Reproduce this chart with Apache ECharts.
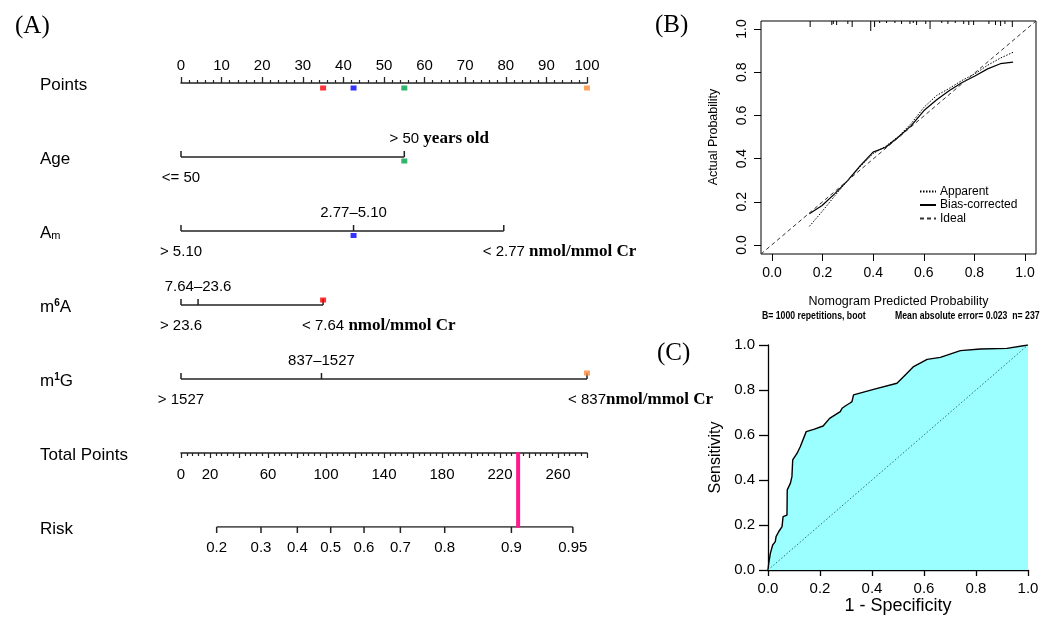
<!DOCTYPE html>
<html lang="en">
<head>
<meta charset="UTF-8">
<title>Nomogram, calibration and ROC</title>
<script src="https://cdn.jsdelivr.net/npm/echarts@6/dist/echarts.min.js"></script>
<style>
  html, body { margin: 0; padding: 0; background: #fff; }
  #main { width: 1057px; height: 619px; }
</style>
</head>
<body>
<div id="main"></div>
<script>
// ---------- (A) nomogram ----------
const rowNames = ['Points', 'Age', 'Am', 'm6A', 'm1G', 'Total Points', 'Risk'];
const ageLevels = ['<= 50', '> 50'];
const agePoints = [0, 55];
const amLevels = ['> 5.10', '2.77–5.10', '< 2.77'];
const amPoints = [0, 42.5, 79.5];
const m6aLevels = ['> 23.6', '7.64–23.6', '< 7.64'];
const m6aPoints = [0, 4.2, 35];
const m1gLevels = ['> 1527', '837–1527', '< 837'];
const m1gPoints = [0, 34.6, 100];
const units = [' years old', ' nmol/mmol Cr', ' nmol/mmol Cr', 'nmol/mmol Cr'];

// patient marked on the nomogram: chosen level of each variable
const pickedLevel = [1, 1, 2, 2];
const pickedColors = ['#00a04a', '#0000ff', '#ff0000', '#ff8c3c'];

const totalPointsMax = 280;
const totalLabels = [0, 20, 60, 100, 140, 180, 220, 260];
const riskTicks = [0.2, 0.3, 0.4, 0.5, 0.6, 0.7, 0.8, 0.9, 0.95];
const lpIntercept = -1.82;
const lpSlope = 0.01763; // linear predictor per total point

// ---------- (B) calibration ----------
const calX = [0.15, 0.20, 0.25, 0.30, 0.35, 0.40, 0.45, 0.50, 0.55, 0.60, 0.65, 0.70, 0.75, 0.80, 0.85, 0.90, 0.95];
const apparent = [0.088, 0.157, 0.23, 0.30, 0.365, 0.425, 0.46, 0.505, 0.565, 0.64, 0.695, 0.728, 0.765, 0.795, 0.835, 0.868, 0.895];
const biasCorrected = [0.147, 0.185, 0.24, 0.30, 0.37, 0.432, 0.455, 0.502, 0.555, 0.625, 0.675, 0.718, 0.755, 0.785, 0.818, 0.842, 0.849];
const rugX = [0.153, 0.238, 0.244, 0.257, 0.301, 0.318, 0.391, 0.406, 0.426, 0.453, 0.486, 0.512, 0.545, 0.558, 0.571,
  0.607, 0.624, 0.670, 0.694, 0.723, 0.756, 0.776, 0.795, 0.855, 0.881, 0.901, 0.918, 0.947];
const rugFreq = [6, 4, 3, 4, 3, 6, 10, 6, 2, 2, 2, 3, 3, 2, 4, 3, 8, 2, 3, 2, 3, 4, 4, 3, 4, 5, 3, 6];

// ---------- (C) ROC ----------
const rocFpr = [0, 0.003, 0.009, 0.018, 0.028, 0.031, 0.041, 0.054, 0.058, 0.073, 0.074, 0.086, 0.092, 0.095, 0.112,
  0.124, 0.147, 0.176, 0.212, 0.237, 0.278, 0.285, 0.297, 0.314, 0.323, 0.329, 0.406, 0.496, 0.528, 0.56, 0.612,
  0.663, 0.74, 0.817, 0.919, 1.0];
const rocTpr = [0, 0.03, 0.074, 0.111, 0.126, 0.148, 0.17, 0.193, 0.237, 0.244, 0.356, 0.385, 0.415, 0.489, 0.519,
  0.548, 0.615, 0.625, 0.64, 0.674, 0.704, 0.719, 0.729, 0.741, 0.748, 0.778, 0.803, 0.83, 0.867, 0.904, 0.936,
  0.945, 0.975, 0.982, 0.985, 1.0];
const aucText = 'AUC:0.788 (0.730–0.846)';

// ---------- helpers ----------
const SANS = '"Liberation Sans", Arial, sans-serif';
const SERIF = '"Liberation Serif", "Times New Roman", serif';
const ink = '#222';
const measureCtx = document.createElement('canvas').getContext('2d');
function textWidth(text, font) {
  measureCtx.font = font;
  return measureCtx.measureText(text).width;
}

const variables = [
  { levels: ageLevels, pts: agePoints },
  { levels: amLevels, pts: amPoints },
  { levels: m6aLevels, pts: m6aPoints },
  { levels: m1gLevels, pts: m1gPoints }
];
const pickedPts = variables.map((v, i) => v.pts[pickedLevel[i]]);
const totalPoints = pickedPts.reduce((a, b) => a + b, 0);
const riskToPoints = r => (Math.log(r / (1 - r)) - lpIntercept) / lpSlope;

// marker shift (px) of the coloured squares on each variable row
const markerShift = [4, 4.5, -5, -6];
const levelFont = '15px ' + SANS;
const unitFont = 'bold 17px ' + SERIF;
// calibration plot region is padded 4% on each side like R
const calMin = -0.04, calMax = 1.04;

let myChart = echarts.init(document.getElementById('main'));

const option = {
  animation: false,
  backgroundColor: '#fff',
  textStyle: { fontFamily: SANS },
  grid: [
    { left: 181, top: 83, width: 406, height: 444 },
    { left: 181, top: 453, width: 406, height: 74 },
    { left: 761, top: 21, width: 275, height: 233, show: true, borderColor: '#000', borderWidth: 1 },
    { left: 768, top: 345, width: 260, height: 225 },
    // 0..1 part of the calibration box, carries its axes
    { left: 772, top: 29, width: 253, height: 216 }
  ],
  xAxis: [
    {
      gridIndex: 0, type: 'value', min: 0, max: 100, interval: 10, position: 'top',
      axisLine: { onZero: false, lineStyle: { color: ink, width: 1.5 } },
      axisTick: { length: 6, lineStyle: { color: ink, width: 1.3 } },
      minorTick: { show: true, splitNumber: 5, length: 3, lineStyle: { color: ink, width: 1.2 } },
      axisLabel: { fontSize: 15, color: '#000', margin: 10 },
      splitLine: { show: false }
    },
    {
      gridIndex: 1, type: 'value', min: 0, max: totalPointsMax, interval: 20, position: 'top',
      axisLine: { onZero: false, lineStyle: { color: ink, width: 1.5 } },
      axisTick: { inside: true, length: 5, lineStyle: { color: ink, width: 1.2 } },
      minorTick: { show: true, splitNumber: 5, length: 3, lineStyle: { color: ink, width: 1.2 } },
      axisLabel: {
        inside: true, fontSize: 15, color: '#000', margin: 14,
        formatter: v => totalLabels.includes(v) ? String(v) : ''
      },
      splitLine: { show: false }
    },
    { gridIndex: 2, type: 'value', min: calMin, max: calMax, show: false },
    {
      gridIndex: 3, type: 'value', min: 0, max: 1, interval: 0.2,
      axisLine: { lineStyle: { color: '#000', width: 1.3 } },
      axisTick: { length: 6, lineStyle: { color: '#000', width: 1.3 } },
      axisLabel: { formatter: v => v.toFixed(1), fontSize: 15, color: '#000', margin: 11 },
      splitLine: { show: false },
      name: '1 - Specificity', nameLocation: 'middle', nameGap: 27,
      nameTextStyle: { fontSize: 18, color: '#000' }
    },
    {
      gridIndex: 4, type: 'value', min: 0, max: 1, interval: 0.2, offset: 9,
      axisLine: { show: false, onZero: false },
      axisTick: { show: true, length: 7, lineStyle: { color: '#000' } },
      axisLabel: { formatter: v => v.toFixed(1), fontSize: 14, color: '#000', margin: 12 },
      splitLine: { show: false },
      name: 'Nomogram Predicted Probability', nameLocation: 'middle', nameGap: 41,
      nameTextStyle: { fontSize: 12.5, color: '#000' }
    }
  ],
  yAxis: [
    {
      gridIndex: 0, type: 'value', min: 0, max: 6, interval: 1, inverse: true,
      axisLine: { show: false, onZero: false }, axisTick: { show: false }, splitLine: { show: false },
      axisLabel: {
        align: 'left', margin: 141, fontSize: 17, color: '#000', padding: [4, 0, 0, 0],
        formatter: v => rowNames[v].replace(/^Am$/, 'A{sub|m}').replace(/^m(\d)/, 'm{sup|$1}'),
        rich: {
          sub: { fontSize: 11, verticalAlign: 'bottom', color: '#000' },
          sup: { fontSize: 10, fontWeight: 'bold', verticalAlign: 'top', color: '#000' }
        }
      }
    },
    { gridIndex: 1, type: 'value', min: 0, max: 1, inverse: true, show: false },
    { gridIndex: 2, type: 'value', min: calMin, max: calMax, show: false },
    {
      gridIndex: 3, type: 'value', min: 0, max: 1, interval: 0.2,
      axisLine: { show: true, lineStyle: { color: '#000', width: 1.3 } },
      axisTick: { show: true, length: 9, lineStyle: { color: '#000', width: 1.3 } },
      axisLabel: { formatter: v => v.toFixed(1), fontSize: 15, color: '#000', margin: 13 },
      splitLine: { show: false },
      name: 'Sensitivity', nameLocation: 'middle', nameGap: 44,
      nameTextStyle: { fontSize: 16, color: '#000' }
    },
    {
      gridIndex: 4, type: 'value', min: 0, max: 1, interval: 0.2, offset: 11,
      axisLine: { show: false, onZero: false },
      axisTick: { show: true, length: 7, lineStyle: { color: '#000' } },
      axisLabel: { formatter: v => v.toFixed(1), rotate: 90, fontSize: 14, color: '#000', margin: 12 },
      splitLine: { show: false },
      name: 'Actual Probability', nameLocation: 'middle', nameGap: 41,
      nameTextStyle: { fontSize: 12.5, color: '#000' }
    }
  ],
  legend: {
    data: ['Apparent', 'Bias-corrected', 'Ideal'],
    orient: 'vertical', left: 914, top: 180,
    itemWidth: 16, itemHeight: 10, itemGap: 0.5, selectedMode: false,
    itemStyle: { color: 'rgba(0,0,0,0)', borderWidth: 0 },
    textStyle: { fontSize: 12, color: '#000', lineHeight: 13, padding: [0, 0, 0, -1] }
  },
  graphic: [
    { type: 'text', x: 15, y: 26, style: { text: '(A)', font: '25px ' + SERIF, fill: '#000', textVerticalAlign: 'middle' } },
    { type: 'text', x: 655, y: 25, style: { text: '(B)', font: '25px ' + SERIF, fill: '#000', textVerticalAlign: 'middle' } },
    { type: 'text', x: 657, y: 353, style: { text: '(C)', font: '25px ' + SERIF, fill: '#000', textVerticalAlign: 'middle' } },
    {
      type: 'text', x: 762, y: 316, scaleX: 0.87,
      style: { text: 'B= 1000 repetitions, boot', font: 'bold 10px ' + SANS, fill: '#000', textVerticalAlign: 'middle' }
    },
    {
      type: 'text', x: 895, y: 316, scaleX: 0.87,
      style: { text: 'Mean absolute error= 0.023  n= 237', font: 'bold 10px ' + SANS, fill: '#000', textVerticalAlign: 'middle' }
    },
    { type: 'text', x: 870, y: 505, style: { text: aucText, font: '11.5px ' + SANS, fill: '#111', textVerticalAlign: 'middle' } }
  ],
  series: [
    // variable scales
    {
      type: 'custom', xAxisIndex: 0, yAxisIndex: 0, silent: true,
      data: variables.map((v, i) => [i + 1]),
      renderItem: (params, api) => {
        const v = variables[params.dataIndex];
        const row = api.value(0);
        const a = api.coord([0, row]);
        const b = api.coord([v.pts[v.pts.length - 1], row]);
        const stroke = { stroke: ink, lineWidth: 1.5 };
        const children = [{ type: 'line', shape: { x1: a[0], y1: a[1], x2: b[0], y2: b[1] }, style: stroke }];
        v.pts.forEach((p, k) => {
          const c = api.coord([p, row]);
          children.push({ type: 'line', shape: { x1: c[0], y1: c[1], x2: c[0], y2: c[1] - 6 }, style: stroke });
          const ty = c[1] + (k % 2 === 1 ? -18.5 : 20.5);
          children.push({
            type: 'text',
            style: { x: c[0], y: ty, text: v.levels[k], font: levelFont, fill: '#000', textAlign: 'center', textVerticalAlign: 'middle' }
          });
          if (k === v.pts.length - 1) {
            const w = textWidth(v.levels[k], levelFont);
            children.push({
              type: 'text',
              style: { x: c[0] + w / 2, y: ty, text: units[params.dataIndex], font: unitFont, fill: '#000', textAlign: 'left', textVerticalAlign: 'middle' }
            });
          }
        });
        return { type: 'group', children };
      }
    },
    // coloured squares on the Points axis
    {
      type: 'scatter', xAxisIndex: 0, yAxisIndex: 0, silent: true, z: 5,
      symbol: 'rect', symbolSize: [6, 5], symbolOffset: [0, 5],
      data: pickedPts.map((p, i) => ({ value: [p, 0], itemStyle: { color: pickedColors[i] } }))
    },
    // coloured squares on each variable row
    {
      type: 'scatter', xAxisIndex: 0, yAxisIndex: 0, silent: true, z: 5,
      symbol: 'rect', symbolSize: [6, 5],
      data: pickedPts.map((p, i) => ({ value: [p, i + 1], symbolOffset: [0, markerShift[i]], itemStyle: { color: pickedColors[i] } }))
    },
    // risk scale
    {
      type: 'line', xAxisIndex: 1, yAxisIndex: 1, silent: true, symbol: 'none',
      lineStyle: { color: ink, width: 1.5 },
      data: [[riskToPoints(riskTicks[0]), 1], [riskToPoints(riskTicks[riskTicks.length - 1]), 1]]
    },
    {
      type: 'custom', xAxisIndex: 1, yAxisIndex: 1, silent: true,
      data: riskTicks.map(r => [riskToPoints(r), 1]),
      renderItem: (params, api) => {
        const c = api.coord([api.value(0), api.value(1)]);
        return {
          type: 'group', children: [
            { type: 'line', shape: { x1: c[0], y1: c[1], x2: c[0], y2: c[1] + 6 }, style: { stroke: ink, lineWidth: 1.5 } },
            {
              type: 'text',
              style: { x: c[0], y: c[1] + 21, text: String(riskTicks[params.dataIndex]), font: levelFont, fill: '#000', textAlign: 'center', textVerticalAlign: 'middle' }
            }
          ]
        };
      }
    },
    // patient's total points
    {
      type: 'line', xAxisIndex: 1, yAxisIndex: 1, silent: true, symbol: 'none', z: 6,
      lineStyle: { color: '#ff1a8c', width: 4 },
      data: [[totalPoints, -0.01], [totalPoints, 1.01]]
    },
    // calibration
    {
      name: 'Apparent', type: 'line', xAxisIndex: 2, yAxisIndex: 2, symbol: 'none', silent: true,
      lineStyle: { color: '#000', width: 1, type: [1.5, 1.5] },
      data: calX.map((x, i) => [x, apparent[i]])
    },
    {
      name: 'Bias-corrected', type: 'line', xAxisIndex: 2, yAxisIndex: 2, symbol: 'none', silent: true,
      lineStyle: { color: '#000', width: 1.2 },
      data: calX.map((x, i) => [x, biasCorrected[i]])
    },
    {
      name: 'Ideal', type: 'line', xAxisIndex: 2, yAxisIndex: 2, symbol: 'none', silent: true,
      lineStyle: { color: '#333', width: 1, type: [4, 3] },
      data: [[calMin, calMin], [calMax, calMax]]
    },
    {
      type: 'custom', xAxisIndex: 2, yAxisIndex: 2, silent: true,
      data: rugX.map((x, i) => [x, rugFreq[i]]),
      renderItem: (params, api) => {
        const c = api.coord([api.value(0), calMax]);
        return { type: 'line', shape: { x1: c[0], y1: c[1], x2: c[0], y2: c[1] + api.value(1) }, style: { stroke: '#000', lineWidth: 1 } };
      }
    },
    // ROC
    {
      type: 'line', xAxisIndex: 3, yAxisIndex: 3, symbol: 'none', silent: true,
      lineStyle: { color: '#000', width: 1.4 },
      areaStyle: { color: '#9bffff', opacity: 1 },
      data: rocFpr.map((x, i) => [x, rocTpr[i]])
    },
    {
      type: 'line', xAxisIndex: 3, yAxisIndex: 3, symbol: 'none', silent: true, z: 3,
      lineStyle: { color: '#2f6f6f', width: 1, type: [1.5, 2] },
      data: [[0, 0], [1, 1]]
    }
  ]
};

myChart.setOption(option);
</script>
</body>
</html>
